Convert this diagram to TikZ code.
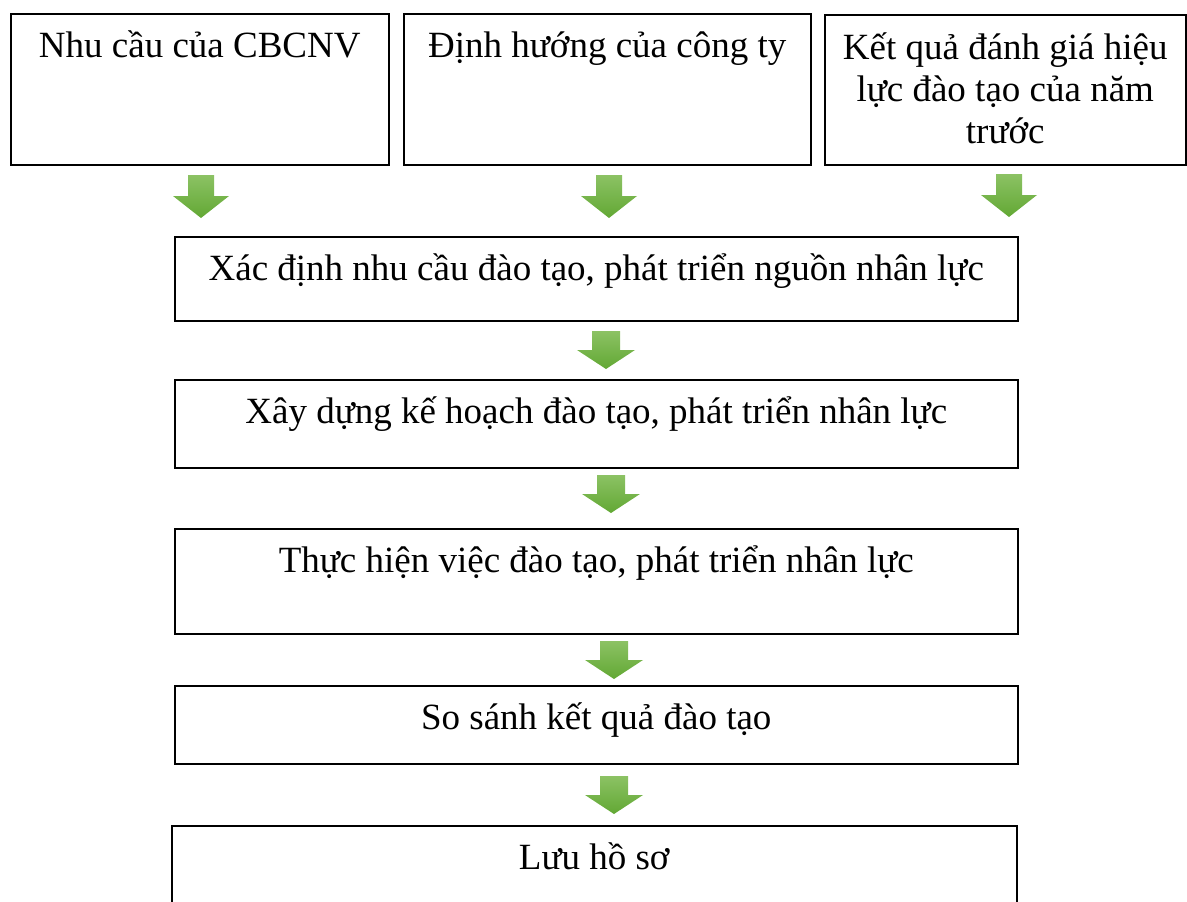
\documentclass[tikz,border=0pt]{standalone}
\usepackage{fontspec}
\setmainfont{Liberation Serif}
\definecolor{arrowtop}{RGB}{140,194,100}
\definecolor{arrowbottom}{RGB}{98,168,52}

\begin{document}
\begin{tikzpicture}
    [x=1pt,y=-1pt,
     box/.style={draw,line width=1.5pt,inner sep=0pt,anchor=north west,
       font=\fontsize{37}{42}\selectfont,text height=44pt},
     greenfill/.style={top color=arrowtop,bottom color=arrowbottom}]
    \clip (0,0) rectangle (1187,902);
    % three sources
    \node[box,minimum width=378pt,text depth=107pt] (cbcnv) at (10,13) {Nhu cầu của CBCNV};
    \node[box,minimum width=407pt,text depth=107pt] (congty) at (403,13) {Định hướng của công ty};
    \node[box,minimum width=361pt,text height=129pt,text depth=21pt,align=center] (namtruoc) at (824,14)
      {Kết quả đánh giá hiệu\\lực đào tạo của năm\\trước};
    % steps
    \node[box,minimum width=843pt,text depth=40pt] (xacdinh) at (174,236) {Xác định nhu cầu đào tạo, phát triển nguồn nhân lực};
    \node[box,minimum width=843pt,text depth=44pt] (kehoach) at (174,379) {Xây dựng kế hoạch đào tạo, phát triển nhân lực};
    \node[box,minimum width=843pt,text depth=61pt] (thuchien) at (174,528) {Thực hiện việc đào tạo, phát triển nhân lực};
    \node[box,minimum width=843pt,text depth=34pt] (sosanh) at (174,685) {So sánh kết quả đào tạo};
    \node[box,minimum width=845pt,text depth=106pt] (luuhoso) at (171,825) {Lưu hồ sơ};
    % green arrows
    \foreach \cx/\ty in {201/175,609/175,1009/174}
      \shade[greenfill] (\cx-13,\ty) -- (\cx+13,\ty) -- (\cx+13,\ty+21) -- (\cx+28,\ty+21)
        -- (\cx,\ty+43) -- (\cx-28,\ty+21) -- (\cx-13,\ty+21) -- cycle;
    \foreach \cx/\ty in {606/331,611/475,614/641,614/776}
      \shade[greenfill] (\cx-14,\ty) -- (\cx+14,\ty) -- (\cx+14,\ty+19) -- (\cx+29,\ty+19)
        -- (\cx,\ty+38) -- (\cx-29,\ty+19) -- (\cx-14,\ty+19) -- cycle;
  \end{tikzpicture}
\end{document}
